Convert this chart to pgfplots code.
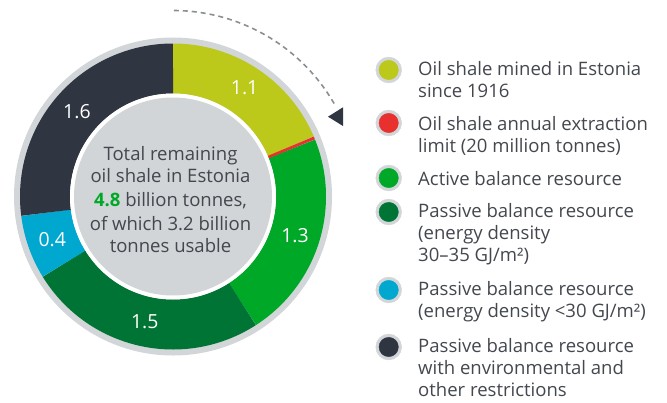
\documentclass[border=0pt]{standalone}
\usepackage{pgfplots}
\pgfplotsset{compat=1.18}
\usepackage{pgfplotstable}
\usepackage{fontspec}
\setmainfont{Open Sans}
\definecolor{cMined}{HTML}{BCC81A}
\definecolor{cLimit}{HTML}{E8312F}
\definecolor{cActive}{HTML}{00A828}
\definecolor{cPassive}{HTML}{007434}
\definecolor{cLow}{HTML}{00A8CF}
\definecolor{cRestr}{HTML}{2F3541}
\definecolor{cRing}{HTML}{D2D6D9}
\definecolor{cCenter}{HTML}{D1D5D8}
\definecolor{cText}{HTML}{43474E}
\definecolor{cDash}{HTML}{8A8F94}

\pgfplotstableread{
part value
mined 1.1
limit 0.02
active 1.3
passive 1.5
lowdensity 0.4
restricted 1.6
}\shaletable

\pgfplotstablegetelem{0}{value}\of\shaletable \let\vA\pgfplotsretval
\pgfplotstablegetelem{1}{value}\of\shaletable \let\vB\pgfplotsretval
\pgfplotstablegetelem{2}{value}\of\shaletable \let\vC\pgfplotsretval
\pgfplotstablegetelem{3}{value}\of\shaletable \let\vD\pgfplotsretval
\pgfplotstablegetelem{4}{value}\of\shaletable \let\vE\pgfplotsretval
\pgfplotstablegetelem{5}{value}\of\shaletable \let\vF\pgfplotsretval
\pgfmathsetmacro\tot{\vA+\vB+\vC+\vD+\vE+\vF}
\pgfmathsetmacro\aA{90}
\pgfmathsetmacro\aB{\aA-360*\vA/\tot}
\pgfmathsetmacro\aC{\aB-360*\vB/\tot}
\pgfmathsetmacro\aD{\aC-360*\vC/\tot}
\pgfmathsetmacro\aE{\aD-360*\vD/\tot}
\pgfmathsetmacro\aF{\aE-360*\vE/\tot}
\pgfmathsetmacro\aG{\aF-360*\vF/\tot}
\pgfmathsetmacro\mA{(\aA+\aB)/2}
\pgfmathsetmacro\mC{(\aC+\aD)/2}
\pgfmathsetmacro\mD{(\aD+\aE)/2}
\pgfmathsetmacro\mE{(\aE+\aF)/2}
\pgfmathsetmacro\mF{(\aF+\aG)/2}
\def\cx{173}
\def\cy{205.5}
% legend line at baseline (pixel y from top)
\newcommand\legline[2]{\node[text=cText, anchor=base west, inner sep=0pt, font=\fontsize{18.6}{22}\selectfont] at (axis cs:418,{402-#1}) {#2};}
\newcommand\ctrline[2]{\node[text=cText, anchor=base, inner sep=0pt, font=\fontsize{18.6}{22}\selectfont] at (axis cs:170.5,{402-#1}) {#2};}

\begin{document}
\begin{tikzpicture}
\begin{axis}[hide axis, x=1bp, y=1bp, xmin=0, xmax=667, ymin=0, ymax=402,
  scale only axis, clip=false]
\coordinate (ll) at (axis cs:0,0);
\coordinate (ur) at (axis cs:667,402);
% outer grey disc
\fill[cRing] (axis cs:\cx,\cy) circle[radius=159bp];
% slices
\addplot[draw=cMined, line width=50bp, line cap=butt, domain=\aB:\aA, samples=120] ({\cx+128*cos(x)},{\cy+128*sin(x)});
\addplot[draw=cActive, line width=50bp, line cap=butt, domain=\aD:\aC, samples=140] ({\cx+128*cos(x)},{\cy+128*sin(x)});
\addplot[draw=cPassive, line width=50bp, line cap=butt, domain=\aE:\aD, samples=160] ({\cx+128*cos(x)},{\cy+128*sin(x)});
\addplot[draw=cLow, line width=50bp, line cap=butt, domain=\aF:\aE, samples=60] ({\cx+128*cos(x)},{\cy+128*sin(x)});
\addplot[draw=cRestr, line width=50bp, line cap=butt, domain=\aG:\aF, samples=160] ({\cx+128*cos(x)},{\cy+128*sin(x)});
\addplot[draw=cLimit, line width=50bp, line cap=butt, domain=\aC:\aB, samples=4] ({\cx+128*cos(x)},{\cy+128*sin(x)});
% centre
\fill[white] (axis cs:\cx,\cy) circle[radius=103bp];
\fill[cCenter] (axis cs:\cx,\cy) circle[radius=99bp];
% slice labels
\begin{scope}[every node/.style={text=white, font=\fontsize{19.5}{22}\selectfont}]
\node at (axis cs:{\cx+130*cos(\mA)},{\cy+130*sin(\mA)}) {1.1};
\node at (axis cs:{\cx+128*cos(\mC)},{\cy+128*sin(\mC)}) {1.3};
\node at (axis cs:{\cx+128*cos(\mD)},{\cy+128*sin(\mD)}) {1.5};
\node at (axis cs:{\cx+128*cos(\mE)},{\cy+128*sin(\mE)}) {0.4};
\node at (axis cs:{\cx+128*cos(\mF)},{\cy+128*sin(\mF)}) {1.6};
\end{scope}
% centre text
\ctrline{160}{Total remaining}
\ctrline{182.7}{oil shale in Estonia}
\ctrline{206.5}{{\color{cActive}\bfseries 4.8} billion tonnes,}
\ctrline{230}{of which 3.2 billion}
\ctrline{252.5}{tonnes usable}
% dashed arrow
\addplot[draw=cDash, line width=1.6bp, dash pattern=on 5bp off 4bp, domain=30:90, samples=60] ({\cx+186*cos(x)},{\cy+186*sin(x)});
\fill[cRestr] (axis cs:328,285.3) -- (axis cs:343,294.7) -- (axis cs:343,276) -- cycle;
% legend markers
\addplot[only marks, mark=*, color=cRing, mark size=13] coordinates {(388.7,332) (388.7,279) (388.7,224) (388.7,190) (388.7,112) (388.7,55)};
\addplot[only marks, mark=*, color=cMined, mark size=9.7] coordinates {(388.7,332)};
\addplot[only marks, mark=*, color=cLimit, mark size=9.7] coordinates {(388.7,279)};
\addplot[only marks, mark=*, color=cActive, mark size=9.7] coordinates {(388.7,224)};
\addplot[only marks, mark=*, color=cPassive, mark size=9.7] coordinates {(388.7,190)};
\addplot[only marks, mark=*, color=cLow, mark size=9.7] coordinates {(388.7,112)};
\addplot[only marks, mark=*, color=cRestr, mark size=9.7] coordinates {(388.7,55)};
% legend text
\legline{75.5}{Oil shale mined in Estonia}
\legline{97.5}{since 1916}
\legline{130.5}{Oil shale annual extraction}
\legline{152.5}{limit (20 million tonnes)}
\legline{185.5}{Active balance resource}
\legline{217.5}{Passive balance resource}
\legline{239.5}{(energy density}
\legline{261.5}{30–35 GJ/m²)}
\legline{295}{Passive balance resource}
\legline{317}{(energy density <30 GJ/m²)}
\legline{352}{Passive balance resource}
\legline{374}{with environmental and}
\legline{396}{other restrictions}
\end{axis}
\pgfresetboundingbox
\path[use as bounding box] (ll) rectangle (ur);
\end{tikzpicture}
\end{document}
